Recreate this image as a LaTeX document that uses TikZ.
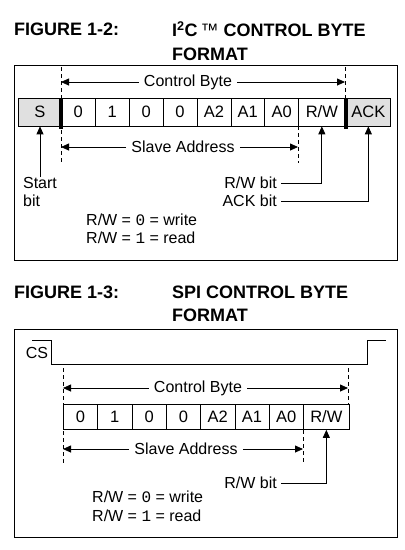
\documentclass[tikz,border=0pt]{standalone}
\usepackage{fontspec}
\setmainfont{Liberation Sans}
\newfontfamily\digitfont{Liberation Mono}
\usetikzlibrary{arrows.meta,positioning}
\tikzset{
  frame/.style={draw,line width=0.9pt},
  ttl/.style={font=\fontsize{18}{20}\selectfont\bfseries,anchor=west,inner sep=0pt},
  lbl/.style={font=\fontsize{16}{18}\selectfont,inner sep=0pt},
  spanlbl/.style={lbl,inner sep=5pt},
  cell/.style={draw,line width=0.7pt,minimum height=28pt,minimum width=33.9pt,inner sep=0pt,anchor=west,font=\fontsize{16.5}{18}\selectfont},
  grey/.style={fill=black!12},
  bar/.style={fill=black,minimum width=3.5pt,minimum height=31pt,inner sep=0pt},
  bnd/.style={line width=0.7pt,dash pattern=on 4pt off 3pt},
  span/.style={line width=0.8pt,-{Triangle[length=8pt,width=7pt]}},
  wave/.style={line width=0.8pt},
  every picture/.style={x=1pt,y=-1pt}
}

\begin{document}
\begin{tikzpicture}
\useasboundingbox (0,0) rectangle (405,550);
\node[ttl] (t1) at (14,29) {FIGURE 1-2:};
\node[ttl] (t1a) at (172,29) {I\textsuperscript{2}C\,{\mdseries ™} CONTROL BYTE};
\node[ttl] (t1b) at (172,54) {FORMAT};
\draw[frame] (14,65) rectangle (397,260);
\node[cell,grey,minimum width=43pt] (s) at (18,112) {S};
\foreach \t [count=\i] in {0,1,0,0,A2,A1,A0} \node[cell] (a\i) at ({61+33.9*(\i-1)},112) {\t};
\node[cell,minimum width=47pt] (rw) at (298,112) {R/W};
\node[cell,grey,minimum width=44pt] (ack) at (346,112) {ACK};
\node[bar] (b1) at (61,113) {}; \node[bar] (b2) at (346,113) {};
\coordinate (d1) at (61,67); \coordinate (d2) at (345,67); \coordinate (d3) at (298,126);
\draw[bnd] (d1) -- (61,163); \draw[bnd] (d2) -- (d2 |- rw.north); \draw[bnd] (d3) -- (298,163);
\node[spanlbl] (cb1) at (188,82) {Control Byte};
\draw[span] (cb1) -- (cb1 -| d1); \draw[span] (cb1) -- (cb1 -| d2);
\node[spanlbl] (sa1) at (183,147) {Slave Address};
\draw[span] (sa1) -- (sa1 -| d1); \draw[span] (sa1) -- (sa1 -| d3);
\node[lbl,align=left] (st) at (40,192) {Start\\bit};
\draw[span] (st) -- (st |- s.south);
\node[lbl,anchor=east] (rwb) at (277,183) {R/W bit}; \node[lbl,anchor=east] (ackb) at (277,201) {ACK bit};
\draw[span] ([xshift=4pt]rwb.east) -| (rw.south); \draw[span] ([xshift=4pt]ackb.east) -| (ack.south);
\node[lbl,anchor=west] (eq1) at (86,220) {R/W = {\digitfont 0} = write};
\node[lbl,anchor=west] (eq2) at (86,238) {R/W = {\digitfont 1} = read};
\node[ttl] (t2) at (14,292) {FIGURE 1-3:};
\node[ttl] (t2a) at (172,292) {SPI CONTROL BYTE};
\node[ttl] (t2b) at (172,315) {FORMAT};
\draw[frame] (14,329) rectangle (397,537);
\draw[wave] (32,340) -- (51,340) -- (51,364) -- (367,364) -- (367,340) -- (386,340);
\node[lbl] (cs) at (37,353) {CS};
\foreach \t [count=\i] in {0,1,0,0,A2,A1,A0} \node[cell,minimum width=34.3pt,minimum height=25pt] (c\i) at ({63+34.3*(\i-1)},417) {\t};
\node[cell,minimum width=46pt,minimum height=25pt] (rw2) at (303,417) {R/W};
\coordinate (e1) at (63,368); \coordinate (e2) at (348,368); \coordinate (e3) at (303,430);
\draw[bnd] (e1) -- (63,463); \draw[bnd] (e2) -- (e2 |- rw2.north); \draw[bnd] (e3) -- (303,463);
\node[spanlbl] (cb2) at (198,388) {Control Byte};
\draw[span] (cb2) -- (cb2 -| e1); \draw[span] (cb2) -- (cb2 -| e2);
\node[spanlbl] (sa2) at (186,449) {Slave Address};
\draw[span] (sa2) -- (sa2 -| e1); \draw[span] (sa2) -- (sa2 -| e3);
\node[lbl,anchor=east] (rwb2) at (277,483) {R/W bit};
\draw[span] ([xshift=4pt]rwb2.east) -| (rw2.south);
\node[lbl,anchor=west] (eq3) at (92,497) {R/W = {\digitfont 0} = write};
\node[lbl,anchor=west] (eq4) at (92,516) {R/W = {\digitfont 1} = read};
\end{tikzpicture}
\end{document}
